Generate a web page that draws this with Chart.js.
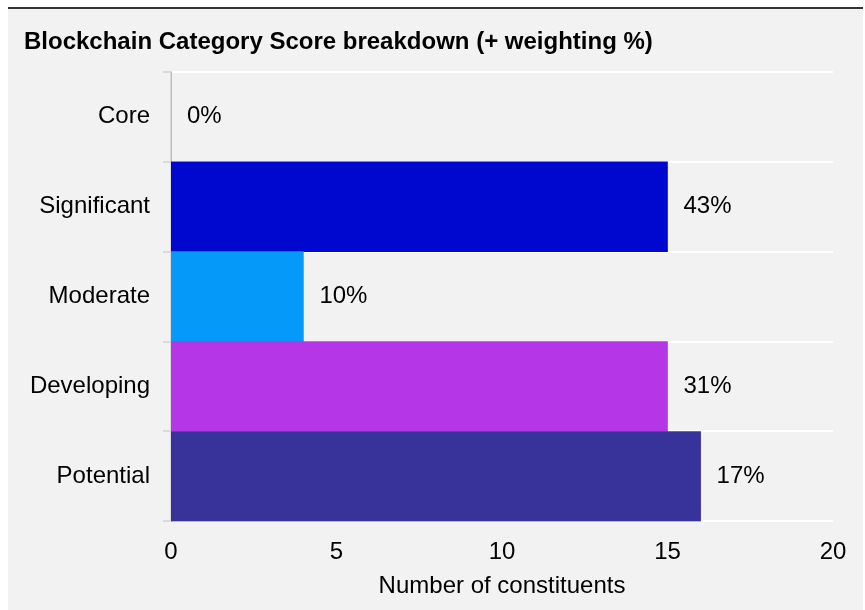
<!DOCTYPE html>
<html>
<head>
<meta charset="utf-8">
<script src="https://cdn.jsdelivr.net/npm/chart.js@4"></script>
<style>
  html, body { margin: 0; padding: 0; background: #fff; }
  #panel {
    position: absolute; left: 8px; top: 7px; width: 855px; height: 603px;
    background: #f2f2f2; border-top: 2px solid #333;
  }
  #wrap { position: absolute; left: 0; top: 0; width: 855px; height: 601px; }
</style>
</head>
<body>
<div id="panel"><div id="wrap"><canvas id="score_chart"></canvas></div></div>
<script>
const categories = ["Core", "Significant", "Moderate", "Developing", "Potential"];
const constituents = [0, 15, 4, 15, 16];
const weighting = ["0%", "43%", "10%", "31%", "17%"];
const barColors = ["#7f7f7f", "#0008CF", "#0599F9", "#B536E6", "#38339B"];
const xTicks = [0, 5, 10, 15, 20];

const FONT = "'Liberation Sans', Arial, sans-serif";
const SIZE = 24;

// weighting % written just past the end of each bar
const weightLabels = {
  id: "weightLabels",
  afterDatasetsDraw(chart) {
    const ctx = chart.ctx;
    const meta = chart.getDatasetMeta(0);
    ctx.save();
    ctx.font = SIZE + "px " + FONT;
    ctx.fillStyle = "#000";
    ctx.textBaseline = "middle";
    ctx.textAlign = "left";
    meta.data.forEach((bar, i) => {
      ctx.fillText(weighting[i], bar.x + 16, bar.y);
    });
    ctx.restore();
  }
};

new Chart(document.getElementById("score_chart"), {
  type: "bar",
  data: {
    labels: categories,
    datasets: [{
      data: constituents,
      backgroundColor: barColors,
      barPercentage: 1,
      categoryPercentage: 1
    }]
  },
  options: {
    indexAxis: "y",
    responsive: true,
    maintainAspectRatio: false,
    animation: false,
    layout: { padding: { left: 16, right: 30, top: 0, bottom: 9 } },
    plugins: {
      legend: { display: false },
      tooltip: { enabled: false },
      title: {
        display: true,
        text: "Blockchain Category Score breakdown (+ weighting %)",
        align: "start",
        color: "#000",
        font: { family: FONT, size: 24, weight: "bold" },
        padding: { top: 19, bottom: 15 }
      }
    },
    scales: {
      x: {
        min: 0,
        max: 20,
        afterBuildTicks(axis) { axis.ticks = xTicks.map(v => ({ value: v })); },
        grid: { display: false },
        border: { display: false },
        ticks: { color: "#000", font: { family: FONT, size: SIZE }, padding: 9 },
        title: {
          display: true,
          text: "Number of constituents",
          color: "#000",
          font: { family: FONT, size: SIZE },
          padding: { top: -4, bottom: 0 }
        }
      },
      y: {
        z: 1,
        afterFit(scale) { scale.width = 147; },
        grid: { color: "#ffffff", tickColor: "#d9d9d9", lineWidth: 2, tickLength: 8 },
        border: { color: "#d9d9d9", width: 2 },
        ticks: { color: "#000", font: { family: FONT, size: SIZE }, padding: 13 }
      }
    }
  },
  plugins: [weightLabels]
});
</script>
</body>
</html>
